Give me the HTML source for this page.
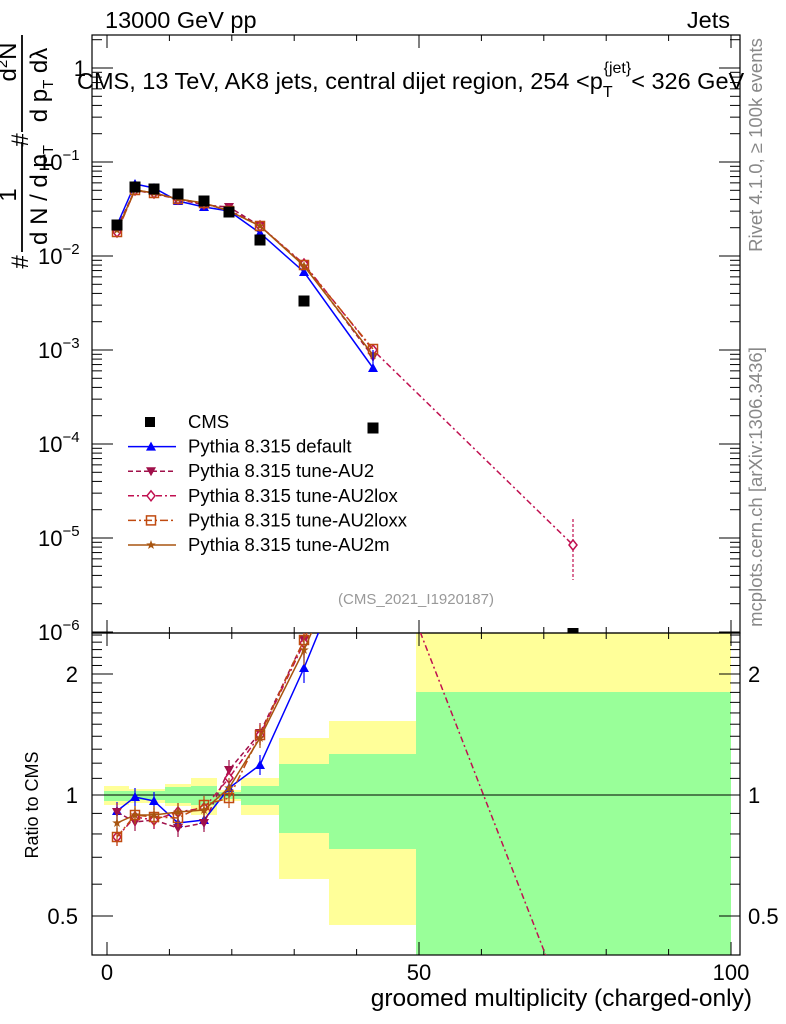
<!DOCTYPE html>
<html><head><meta charset="utf-8"><style>
html,body{margin:0;padding:0;background:#fff}
svg{display:block;font-family:"Liberation Sans",sans-serif}
</style></head><body>
<svg id="s" width="786" height="1024" xmlns="http://www.w3.org/2000/svg">
<defs>
<clipPath id="cm"><rect x="92" y="35" width="648" height="598"/></clipPath>
<clipPath id="cr"><rect x="92" y="633" width="648" height="322"/></clipPath>
</defs>
<g id="bands" clip-path="url(#cr)"></g>
<line x1="92" y1="795" x2="740" y2="795" stroke="#000" stroke-width="1"/>
<g id="ticks" stroke="#000" stroke-width="1"></g>
<rect x="92" y="35" width="648" height="598" fill="none" stroke="#000" stroke-width="1.2"/>
<rect x="92" y="633" width="648" height="322" fill="none" stroke="#000" stroke-width="1.2"/>
<g id="main" clip-path="url(#cm)"></g>
<g id="ratio" clip-path="url(#cr)"></g>
<g id="leg"></g>
<text x="105" y="28" font-size="23.5">13000 GeV pp</text>
<text x="730" y="28" font-size="23.5" text-anchor="end">Jets</text>
<text x="77" y="89" font-size="23.5">CMS, 13 TeV, AK8 jets, central dijet region, 254 &lt;p<tspan font-size="16" dy="8">T</tspan><tspan font-size="16" dy="-24" dx="-9">{jet}</tspan><tspan dy="16">&lt; 326 GeV</tspan></text>
<text x="416" y="604" font-size="15" fill="#999" text-anchor="middle">(CMS_2021_I1920187)</text>
<text transform="translate(762,145) rotate(-90)" font-size="18.5" fill="#888" text-anchor="middle">Rivet 4.1.0, ≥ 100k events</text>
<text transform="translate(762,487) rotate(-90)" font-size="18.5" fill="#888" text-anchor="middle">mcplots.cern.ch [arXiv:1306.3436]</text>
<text x="752" y="1006" font-size="24.5" text-anchor="end">groomed multiplicity (charged-only)</text>
<text transform="translate(38,805) rotate(-90)" font-size="18" text-anchor="middle">Ratio to CMS</text>
<g font-size="24">
<text transform="translate(16,195) rotate(-90)" text-anchor="middle">1</text>
<line x1="22" y1="142" x2="22" y2="252" stroke="#000" stroke-width="1.8"/>
<text transform="translate(47,195) rotate(-90)" text-anchor="middle">d N / d p<tspan font-size="15" dy="6">T</tspan></text>
<text transform="translate(28,262) rotate(-90)" text-anchor="middle">#</text>
<text transform="translate(16,62) rotate(-90)" text-anchor="middle">d<tspan font-size="15" dy="-9">2</tspan><tspan dy="9">N</tspan></text>
<line x1="22" y1="35" x2="22" y2="132" stroke="#000" stroke-width="1.8"/>
<text transform="translate(47,85) rotate(-90)" text-anchor="middle">d p<tspan font-size="15" dy="6">T</tspan><tspan dy="-6"> dλ</tspan></text>
<text transform="translate(28,140) rotate(-90)" text-anchor="middle">#</text>
</g>
<g id="lab" font-size="22"></g>
</svg>
<script>
const NS="http://www.w3.org/2000/svg";
function el(p,t,a,txt){const e=document.createElementNS(NS,t);for(const k in a)e.setAttribute(k,a[k]);if(txt!==undefined)e.textContent=txt;document.getElementById(p).appendChild(e);return e;}
const bins=[[104,129,786,805,791,801],[129,165,789,803,791,800],[165,191,784,806,787,803],[191,217,778,815,786,805],[217,241,790,801,792,799],[241,279,778,815,786,805],[279,329,738,879,764,833],[329,416,721,925,754,849],[416,731,600,1000,692,1000]];
bins.forEach(b=>{el("bands","rect",{x:b[0],y:b[2],width:b[1]-b[0],height:b[3]-b[2],fill:"#ffff99"});el("bands","rect",{x:b[0],y:b[4],width:b[1]-b[0],height:b[5]-b[4],fill:"#99ff99"});});
const y0=68,dec=94;
for(let d=0;d<=6;d++){const yb=y0+d*dec;
 el("ticks","line",{x1:92,y1:yb,x2:113,y2:yb});el("ticks","line",{x1:740,y1:yb,x2:719,y2:yb});
 for(let k=2;k<=9;k++){const y=yb-Math.log10(k)*dec; if(y<35)continue; el("ticks","line",{x1:92,y1:y,x2:102,y2:y});el("ticks","line",{x1:740,y1:y,x2:730,y2:y});}}
for(let d=0;d<=6;d++){
 if(d==0){el("lab","text",{x:86,y:y0+8,"text-anchor":"end"},"1");continue;}
 const t=el("lab","text",{x:38,y:y0+d*dec+8},"10");
 const s=document.createElementNS(NS,"tspan");s.setAttribute("font-size","15");s.setAttribute("dy","-10");s.textContent="−"+d;t.appendChild(s);}
function ry(r){return 795-402*Math.log10(r);}
for(let i=4;i<=25;i++){const r=i/10,y=ry(r);if(y<634||y>954)continue;const maj=(i==5||i==10||i==20);const L=maj?21:10;
 el("ticks","line",{x1:92,y1:y,x2:92+L,y2:y});el("ticks","line",{x1:740,y1:y,x2:740-L,y2:y});}
[[0.5,"0.5"],[1,"1"],[2,"2"]].forEach(a=>{el("lab","text",{x:78,y:ry(a[0])+8,"text-anchor":"end"},a[1]);el("lab","text",{x:748,y:ry(a[0])+8},a[1]);});
function xx(v){return 107+v*6.24;}
for(let v=0;v<=100;v+=10){const x=xx(v),maj=v%50==0,L=maj?13:6;
 [35,633].forEach(t=>el("ticks","line",{x1:x,y1:t,x2:x,y2:t+L}));
 [633,955].forEach(b=>el("ticks","line",{x1:x,y1:b,x2:x,y2:b-L}));}
[[0,"0"],[50,"50"],[100,"100"]].forEach(a=>el("lab","text",{x:xx(a[0]),y:980,"text-anchor":"middle"},a[1]));
const xs=[117,135,154,178,204,229,260,304,373];
const cms=[225,187,189,194,201,212,240,301,428];
const S={
 def:{c:"#0000ff",d:"",m:"tu",main:[225,184,188,201,207,211,233,272,368],rat:[811,797,801,823,820,788,765,668,500]},
 au2:{c:"#a0104a",d:"5,3",m:"td",main:[228,190,194,199,205,207,226,265,357],rat:[812,822,820,828,823,770,733,640,480]},
 lox:{c:"#c01050",d:"6,3,2,3",m:"dia",main:[232,190,193,199,204,210,226,264,350],rat:[837,817,820,812,808,778,735,643,470]},
 loxx:{c:"#c04a10",d:"8,3,2,3",m:"sq",main:[232,190,193,199,203,211,226,265,349],rat:[837,815,817,818,805,798,735,640,470]},
 au2m:{c:"#a85510",d:"",m:"st",main:[230,190,193,199,203,211,226,266,355],rat:[823,815,815,812,810,788,738,650,490]}
};
function marker(g,m,x,y,c){
 if(m=="tu")el(g,"polygon",{points:`${x-5},${y+4} ${x+5},${y+4} ${x},${y-5}`,fill:c});
 else if(m=="td")el(g,"polygon",{points:`${x-5},${y-4} ${x+5},${y-4} ${x},${y+5}`,fill:c});
 else if(m=="dia")el(g,"polygon",{points:`${x},${y-5} ${x+4},${y} ${x},${y+5} ${x-4},${y}`,fill:"#fff",stroke:c,"stroke-width":1.5});
 else if(m=="sq")el(g,"rect",{x:x-4.5,y:y-4.5,width:9,height:9,fill:"none",stroke:c,"stroke-width":1.5});
 else if(m=="st"){let p=[];for(let i=0;i<10;i++){const r=i%2?2:5,a=-Math.PI/2+i*Math.PI/5;p.push((x+r*Math.cos(a)).toFixed(1)+","+(y+r*Math.sin(a)).toFixed(1));}el(g,"polygon",{points:p.join(" "),fill:c});}
}
for(const k in S){const s=S[k];
 let pm=xs.map((x,i)=>x+","+s.main[i]);if(k=="lox")pm.push("573,545");
 el("main","polyline",{points:pm.join(" "),fill:"none",stroke:s.c,"stroke-width":1.5,"stroke-dasharray":s.d});
 xs.forEach((x,i)=>marker("main",s.m,x,s.main[i],s.c));
 el("ratio","polyline",{points:xs.map((x,i)=>x+","+s.rat[i]).join(" "),fill:"none",stroke:s.c,"stroke-width":1.5,"stroke-dasharray":s.d});
 xs.forEach((x,i)=>{const y=s.rat[i],e=i<5?9:(i<7?10:15);el("ratio","line",{x1:x,y1:y-e,x2:x,y2:y+e,stroke:s.c,"stroke-width":1.2});marker("ratio",s.m,x,y,s.c);});
}
el("main","line",{x1:373,y1:350,x2:373,y2:372,stroke:"#0000ff","stroke-width":1.2});
el("main","line",{x1:573,y1:519,x2:573,y2:580,stroke:"#c01050","stroke-width":1.2,"stroke-dasharray":"3,2"});
marker("main","dia",573,545,"#c01050");
el("ratio","line",{x1:400,y1:580,x2:560,y2:992,stroke:"#c01050","stroke-width":1.5,"stroke-dasharray":"6,3,2,3"});
cms.forEach((y,i)=>el("main","rect",{x:xs[i]-5.5,y:y-5.5,width:11,height:11,fill:"#000"}));
el("main","rect",{x:567.5,y:628,width:11,height:11,fill:"#000"});
const L=[["CMS",null],["Pythia 8.315 default","def"],["Pythia 8.315 tune-AU2","au2"],["Pythia 8.315 tune-AU2lox","lox"],["Pythia 8.315 tune-AU2loxx","loxx"],["Pythia 8.315 tune-AU2m","au2m"]];
L.forEach((l,i)=>{const y=422+i*24.6;
 if(!l[1])el("leg","rect",{x:145,y:y-5,width:10,height:10,fill:"#000"});
 else{const s=S[l[1]];el("leg","line",{x1:128,y1:y,x2:176,y2:y,stroke:s.c,"stroke-width":1.5,"stroke-dasharray":s.d});marker("leg",s.m,151,y,s.c);}
 el("leg","text",{x:188,y:y+6,"font-size":18.5},l[0]);});
</script>
</body></html>
